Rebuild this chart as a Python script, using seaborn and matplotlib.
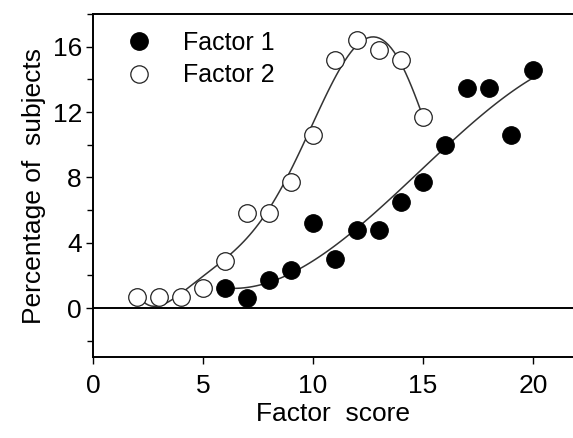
import numpy as np
import pandas as pd
import matplotlib
matplotlib.use("Agg")
import matplotlib.pyplot as plt
import seaborn as sns
from matplotlib.ticker import MultipleLocator
from matplotlib.lines import Line2D

# Data
f1_x = [6, 7, 8, 9, 10, 11, 12, 13, 14, 15, 16, 17, 18, 19, 20]
f1_y = [1.2, 0.6, 1.7, 2.3, 5.2, 3.0, 4.8, 4.8, 6.5, 7.7, 10.0, 13.5, 13.5, 10.6, 14.6]
f2_x = [2, 3, 4, 5, 6, 7, 8, 9, 10, 11, 12, 13, 14, 15]
f2_y = [0.7, 0.7, 0.7, 1.2, 2.9, 5.8, 5.8, 7.7, 10.6, 15.2, 16.4, 15.8, 15.2, 11.7]

x_ticks = [0, 5, 10, 15, 20]
y_ticks = [0, 4, 8, 12, 16]

df1 = pd.DataFrame({"score": f1_x, "pct": f1_y})
df2 = pd.DataFrame({"score": f2_x, "pct": f2_y})

sns.set_theme(style="ticks")
plt.rcParams["font.family"] = ["Liberation Sans", "DejaVu Sans"]
plt.rcParams["text.color"] = "black"
plt.rcParams["axes.labelcolor"] = "black"
plt.rcParams["xtick.color"] = "black"
plt.rcParams["ytick.color"] = "black"

fig = plt.figure(figsize=(5.73, 4.38), dpi=100)
ax = fig.add_axes([93 / 573, (438 - 357) / 438, 480 / 573, (357 - 14) / 438])

# fitted curves
sns.regplot(data=df2, x="score", y="pct", order=6, ci=None, scatter=False,
            ax=ax, line_kws=dict(color="#333333", lw=1.1))
sns.regplot(data=df1, x="score", y="pct", order=3, ci=None, scatter=False,
            ax=ax, line_kws=dict(color="#333333", lw=1.1))

ax.axhline(0, color="black", lw=1.4, zorder=1)

sns.scatterplot(data=df1, x="score", y="pct", ax=ax, s=160, color="black",
                edgecolor="black", linewidth=0.8, zorder=3)
sns.scatterplot(data=df2, x="score", y="pct", ax=ax, s=160, facecolor="white",
                edgecolor="#222222", linewidth=0.9, zorder=3)

ax.set_xlim(0, 480 / 22)
ax.set_ylim(-3, 18)
ax.set_xticks(x_ticks)
ax.set_yticks(y_ticks)
ax.yaxis.set_minor_locator(MultipleLocator(2))
ax.tick_params(axis="both", which="major", labelsize=19, length=5, width=1,
               direction="out", color="black", labelcolor="black")
ax.tick_params(axis="y", which="major", pad=3)
ax.tick_params(axis="x", which="major", pad=7)
ax.tick_params(axis="y", which="minor", length=4, width=1, color="black")

for side in ["left", "bottom", "top"]:
    ax.spines[side].set_color("black")
    ax.spines[side].set_linewidth(1.4)
ax.spines["right"].set_visible(False)

ax.set_xlabel("Factor  score", fontsize=19, labelpad=3, color="black")
ax.set_ylabel("Percentage of  subjects", fontsize=19, labelpad=5, color="black")

handles = [
    Line2D([], [], marker="o", ls="", markersize=12.5, markerfacecolor="black",
           markeredgecolor="black", label="Factor 1"),
    Line2D([], [], marker="o", ls="", markersize=12.5, markerfacecolor="white",
           markeredgecolor="#222222", markeredgewidth=0.9, label="Factor 2"),
]
ax.legend(handles=handles, loc="upper left", bbox_to_anchor=(0.012, 0.995),
          frameon=False, fontsize=18, handletextpad=0.75, labelspacing=0.35,
          borderaxespad=0.2)

fig.savefig("out.png", dpi=100)
